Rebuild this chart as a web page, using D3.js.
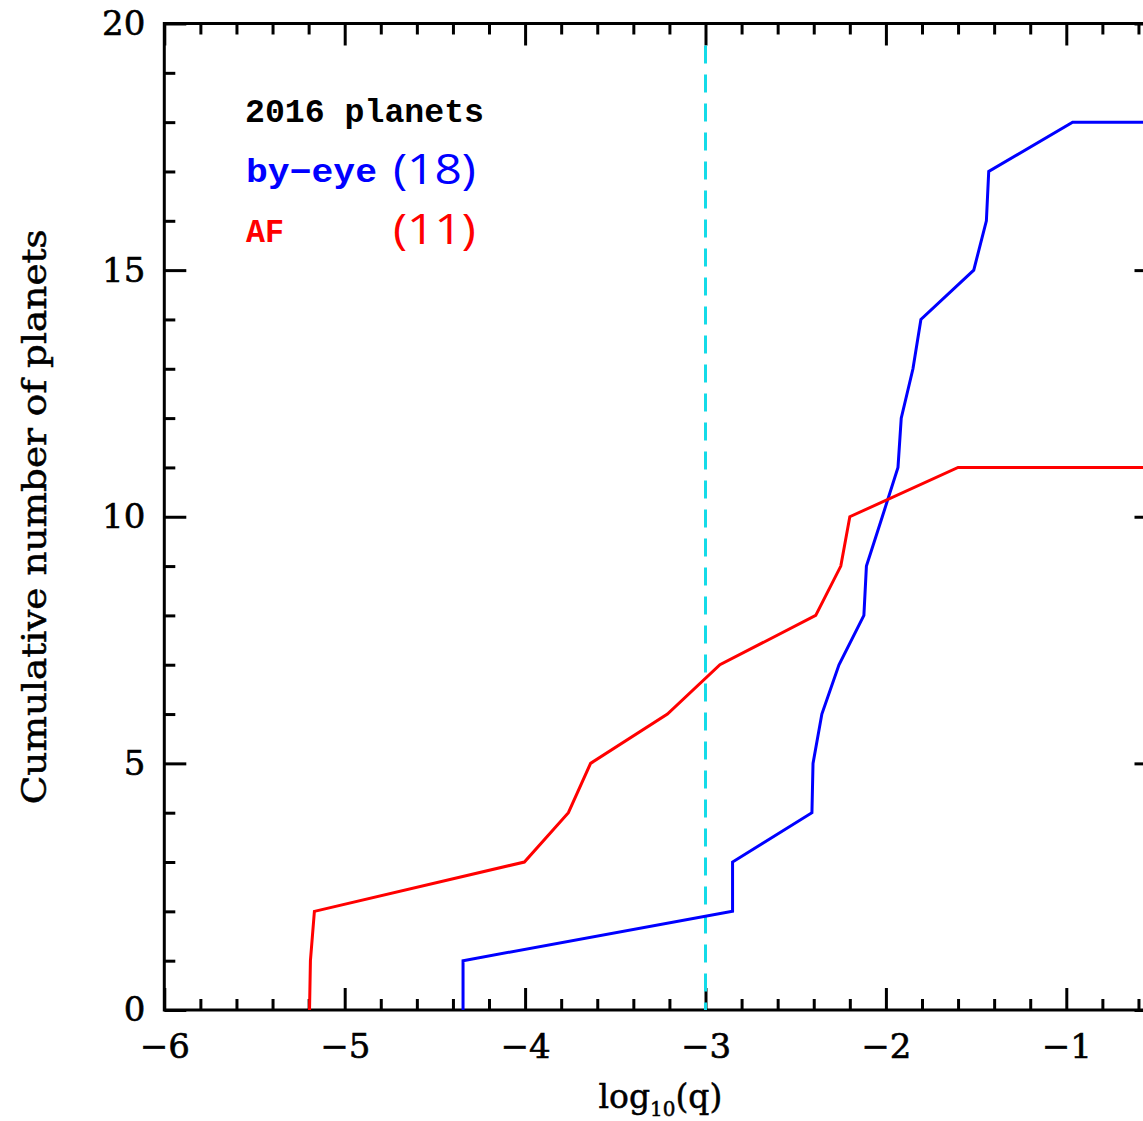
<!DOCTYPE html>
<html>
<head>
<meta charset="utf-8">
<script src="https://cdn.jsdelivr.net/npm/d3@7"></script>
<style>
  html, body { margin: 0; padding: 0; background: #fff; overflow: hidden; }
  svg { display: block; }
</style>
</head>
<body>
<svg id="chart" width="1143" height="1121"></svg>
<script>
// Cumulative planet counts versus log10 of the mass ratio q
const byEyeLogQ = [-4.344, -4.344, -2.85, -2.85, -2.41, -2.404, -2.355, -2.26, -2.122, -2.108, -2.02, -1.933, -1.915, -1.85, -1.806, -1.513, -1.443, -1.43, -0.965, -0.5];
const byEyeCount = [0, 1, 2, 3, 4, 5, 6, 7, 8, 9, 10, 11, 12, 13, 14, 15, 16, 17, 18, 18];
const afLogQ = [-5.195, -5.19, -5.168, -4.004, -3.76, -3.637, -3.211, -2.92, -2.389, -2.25, -2.2, -1.6, -0.5];
const afCount = [0, 1, 2, 3, 4, 5, 6, 7, 8, 9, 10, 11, 11];

const xMajorTicks = [-6, -5, -4, -3, -2, -1];
const yMajorTicks = [0, 5, 10, 15, 20];
const thresholdLogQ = -3;

const legendTitle = "2016 planets";
const seriesNames = ["by\u2212eye", "AF"];
const seriesTotals = ["(18)", "(11)"];
const seriesColors = ["#0000ff", "#ff0000"];

const svg = d3.select("#chart");
const L = 164.3, R = 1156.5, T = 23.5, B = 1010;

const x = d3.scaleLinear().domain([-6, -0.5]).range([L, R]);
const y = d3.scaleLinear().domain([0, 20]).range([B, T]);

const xMinor = d3.range(-6, -0.49, 0.2).map(v => +v.toFixed(2)).filter(v => !xMajorTicks.includes(v));
const yMinor = d3.range(0, 20.01, 1).filter(v => v % 5 !== 0);

const tickFont = "'DejaVu Serif', serif";
const major = 22, minor = 11, lw = 3;

function styleAxis(g, labels) {
  g.select(".domain").remove();
  g.selectAll(".tick line").attr("stroke", "#000").attr("stroke-width", lw);
  g.selectAll(".tick text")
    .attr("font-family", tickFont)
    .attr("font-size", 34)
    .attr("fill", "#000")
    .attr("stroke", "#000").attr("stroke-width", 0.6);
  if (!labels) g.selectAll(".tick text").remove();
}

// bottom
svg.append("g").attr("transform", `translate(0,${B})`)
  .call(d3.axisBottom(x).tickValues(xMajorTicks).tickSize(-major).tickPadding(24).tickFormat(d3.format("d")))
  .call(g => styleAxis(g, true));
svg.append("g").attr("transform", `translate(0,${B})`)
  .call(d3.axisBottom(x).tickValues(xMinor).tickSize(-minor))
  .call(g => styleAxis(g, false));
// top
svg.append("g").attr("transform", `translate(0,${T})`)
  .call(d3.axisTop(x).tickValues(xMajorTicks).tickSize(-major))
  .call(g => styleAxis(g, false));
svg.append("g").attr("transform", `translate(0,${T})`)
  .call(d3.axisTop(x).tickValues(xMinor).tickSize(-minor))
  .call(g => styleAxis(g, false));
// left
svg.append("g").attr("transform", `translate(${L},0)`)
  .call(d3.axisLeft(y).tickValues(yMajorTicks).tickSize(-major).tickPadding(19).tickFormat(d3.format("d")))
  .call(g => styleAxis(g, true));
svg.append("g").attr("transform", `translate(${L},0)`)
  .call(d3.axisLeft(y).tickValues(yMinor).tickSize(-minor))
  .call(g => styleAxis(g, false));
// right
svg.append("g").attr("transform", `translate(${R},0)`)
  .call(d3.axisRight(y).tickValues(yMajorTicks).tickSize(-major))
  .call(g => styleAxis(g, false));
svg.append("g").attr("transform", `translate(${R},0)`)
  .call(d3.axisRight(y).tickValues(yMinor).tickSize(-minor))
  .call(g => styleAxis(g, false));

// frame
svg.append("rect")
  .attr("x", L).attr("y", T).attr("width", R - L).attr("height", B - T)
  .attr("fill", "none").attr("stroke", "#000").attr("stroke-width", lw);

// q = 10^-3 marker
svg.append("line")
  .attr("x1", x(thresholdLogQ)).attr("x2", x(thresholdLogQ))
  .attr("y1", y(20) + major).attr("y2", y(0))
  .attr("stroke", "#14dbe8").attr("stroke-width", 3)
  .attr("stroke-dasharray", "18,11");

// cumulative curves
const line = d3.line().x(d => x(d[0])).y(d => y(d[1]));
const series = [
  d3.zip(byEyeLogQ, byEyeCount),
  d3.zip(afLogQ, afCount)
];
series.forEach((pts, i) => {
  svg.append("path")
    .attr("d", line(pts))
    .attr("fill", "none")
    .attr("stroke", seriesColors[i])
    .attr("stroke-width", 3)
    .attr("stroke-linejoin", "miter");
});

// legend
const legFont = "'Liberation Mono', monospace";
svg.append("text")
  .attr("x", 245).attr("y", 122)
  .attr("font-family", legFont).attr("font-weight", "bold").attr("font-size", 33)
  .attr("textLength", 239).attr("lengthAdjust", "spacingAndGlyphs")
  .attr("fill", "#000").text(legendTitle);
const legY = [182, 242];
const nameWidths = [131, 38];
seriesNames.forEach((name, i) => {
  svg.append("text")
    .attr("x", 246).attr("y", legY[i])
    .attr("font-family", legFont).attr("font-weight", "bold").attr("font-size", 33)
    .attr("textLength", nameWidths[i]).attr("lengthAdjust", "spacingAndGlyphs")
    .attr("fill", seriesColors[i]).text(name);
  svg.append("text")
    .attr("x", 393).attr("y", legY[i] + 2)
    .attr("font-family", "'Open Sans', sans-serif").attr("font-size", 42)
    .attr("textLength", 83).attr("lengthAdjust", "spacingAndGlyphs")
    .attr("fill", seriesColors[i]).text(seriesTotals[i]);
});

// axis titles
const xt = svg.append("text")
  .attr("x", (L + R) / 2).attr("y", 1108)
  .attr("text-anchor", "middle")
  .attr("font-family", tickFont).attr("font-size", 33).attr("fill", "#000")
  .attr("stroke", "#000").attr("stroke-width", 0.5);
xt.append("tspan").text("log");
xt.append("tspan").attr("font-size", 20).attr("dy", 8).text("10");
xt.append("tspan").attr("dy", -8).text("(q)");

svg.append("text")
  .attr("transform", `translate(46,${(T + B) / 2}) rotate(-90)`)
  .attr("text-anchor", "middle")
  .attr("font-family", tickFont).attr("font-size", 33)
  .attr("textLength", 575).attr("lengthAdjust", "spacingAndGlyphs")
  .attr("fill", "#000").attr("stroke", "#000").attr("stroke-width", 0.5)
  .text("Cumulative number of planets");
</script>
</body>
</html>
